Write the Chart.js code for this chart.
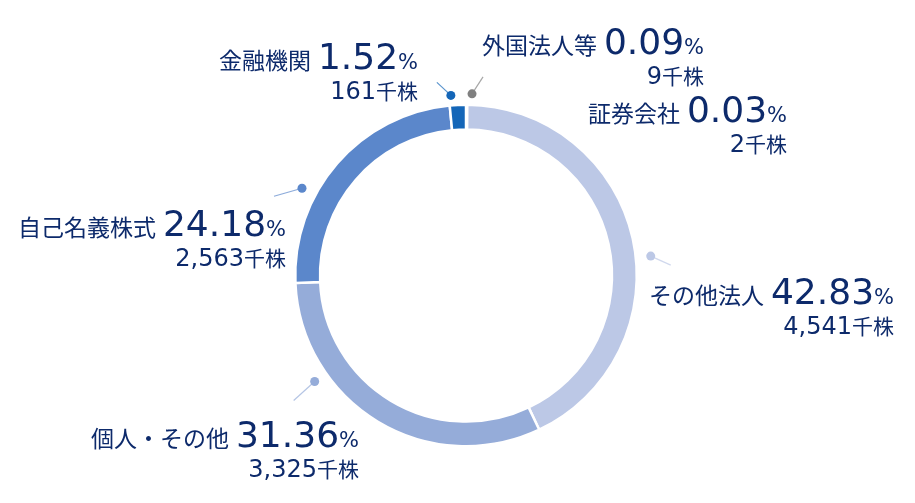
<!DOCTYPE html>
<html lang="ja">
<head>
<meta charset="utf-8">
<script src="https://cdn.jsdelivr.net/npm/chart.js@4"></script>
<style>
  html, body { margin: 0; padding: 0; background: #fff; }
  #wrap { position: relative; width: 915px; height: 503px; overflow: hidden; }
  #chart { position: absolute; left: 0; top: 0; }
  .lbl { position: absolute; text-align: right; color: #0d2a6b; white-space: nowrap; }
  .lbl .l1 { line-height: 40px; height: 40px; }
  .lbl .l2 { line-height: 26px; height: 26px; }
  .cat { font-family: "Noto Sans CJK JP", sans-serif; font-size: 23px; line-height: 40px; margin-right: 7px; }
  .pct { font-family: "DejaVu Sans", sans-serif; font-size: 36px; line-height: 40px; }
  .pc { font-family: "DejaVu Sans", sans-serif; font-size: 21px; line-height: 40px; }
  .sh { font-family: "DejaVu Sans", sans-serif; font-size: 24px; line-height: 26px; }
  .unit { font-family: "Noto Sans CJK JP", sans-serif; font-size: 21px; line-height: 26px; }
</style>
</head>
<body>
<div id="wrap">
  <canvas id="chart" width="915" height="503"></canvas>
</div>
<script>
// 所有者別株式分布
const categories = ["外国法人等", "証券会社", "その他法人", "個人・その他", "自己名義株式", "金融機関"];
const percents = [0.09, 0.03, 42.83, 31.36, 24.18, 1.52];
const shares = ["9", "2", "4,541", "3,325", "2,563", "161"]; // 千株
const colors = ["#808080", "#a5a5a5", "#bcc8e6", "#95acd9", "#5b87cb", "#1466b8"];

// label layout (right edge / top of text block, dot angle from 12 o'clock, leader offset)
const labelLayout = [
  { right: 704, top: 22, dotDeg: 1.9, dotR: 11, lead: [11, -17] },
  { right: 787, top: 90, dotDeg: null },
  { right: 894, top: 272, dotDeg: 84, dotR: 15, lead: [20, 9] },
  { right: 359, top: 415, dotDeg: 235, dotR: 14, lead: [-21, 19] },
  { right: 286, top: 204, dotDeg: 298, dotR: 15, lead: [-28, 8] },
  { right: 418, top: 37, dotDeg: 355.2, dotR: 10, lead: [-14, -13] },
];

const wrap = document.getElementById("wrap");
categories.forEach((c, i) => {
  const lay = labelLayout[i];
  const div = document.createElement("div");
  div.className = "lbl";
  div.style.right = (915 - lay.right) + "px";
  div.style.top = lay.top + "px";
  div.innerHTML =
    '<div class="l1"><span class="cat">' + c + '</span><span class="pct">' +
    percents[i].toFixed(2) + '</span><span class="pc">%</span></div>' +
    '<div class="l2"><span class="sh">' + shares[i] + '</span><span class="unit">千株</span></div>';
  wrap.appendChild(div);
});

const leaderPlugin = {
  id: "leaders",
  afterDraw(chart) {
    const ctx = chart.ctx;
    const arcs = chart.getDatasetMeta(0).data;
    arcs.forEach((arc, i) => {
      const lay = labelLayout[i];
      if (lay.dotDeg === null) return;
      const { x, y, outerRadius } = arc.getProps(["x", "y", "outerRadius"], true);
      const a = (lay.dotDeg - 90) * Math.PI / 180;
      const r = outerRadius + lay.dotR;
      const px = x + Math.cos(a) * r;
      const py = y + Math.sin(a) * r;
      ctx.save();
      ctx.strokeStyle = colors[i];
      ctx.globalAlpha = 0.7;
      ctx.lineWidth = 1.2;
      ctx.beginPath();
      ctx.moveTo(px, py);
      ctx.lineTo(px + lay.lead[0], py + lay.lead[1]);
      ctx.stroke();
      ctx.globalAlpha = 1;
      ctx.fillStyle = colors[i];
      ctx.beginPath();
      ctx.arc(px, py, 4.5, 0, Math.PI * 2);
      ctx.fill();
      ctx.restore();
    });
  }
};

new Chart(document.getElementById("chart"), {
  type: "doughnut",
  data: {
    labels: categories,
    datasets: [{
      data: percents,
      backgroundColor: colors,
      borderColor: "#ffffff",
      borderWidth: 2.5,
    }],
  },
  options: {
    responsive: false,
    animation: false,
    cutout: "85.5%",
    layout: { padding: { left: 294, right: 277, top: 103, bottom: 55 } },
    plugins: {
      legend: { display: false },
      tooltip: { enabled: false },
    },
  },
  plugins: [leaderPlugin],
});
</script>
</body>
</html>
